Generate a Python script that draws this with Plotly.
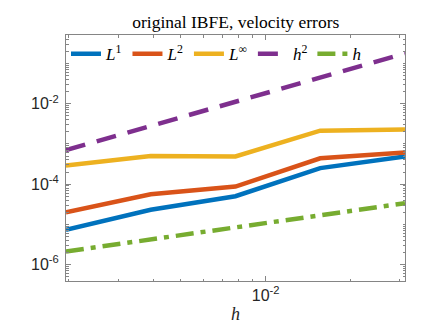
import plotly.graph_objects as go

# mesh widths and velocity errors (original IBFE)
h = [1/512, 1/256, 1/128, 1/64, 1/32]
err_l1 = [7.3e-6, 2.3e-5, 5.0e-5, 2.5e-4, 4.9e-4]
err_l2 = [2.0e-5, 5.6e-5, 8.7e-5, 4.4e-4, 6.1e-4]
err_linf = [2.9e-4, 5.0e-4, 4.9e-4, 2.14e-3, 2.3e-3]
ref_h2 = [7.0e-4, 2.8e-3, 1.12e-2, 4.48e-2, 1.79e-1]
ref_h = [2.1e-6, 4.2e-6, 8.4e-6, 1.68e-5, 3.36e-5]

series = [
    ("<i>L</i><sup>1</sup>", err_l1, "#0072BD", "solid"),
    ("<i>L</i><sup>2</sup>", err_l2, "#D95319", "solid"),
    ("<i>L</i><sup>∞</sup>", err_linf, "#EDB120", "solid"),
    ("<i>h</i><sup>2</sup>", ref_h2, "#7E2F8E", "20px,12px"),
    ("<i>h</i>", ref_h, "#77AC30", "18px,7px,5px,7px"),
]

fig = go.Figure()
for name, y, color, dash in series:
    fig.add_trace(go.Scatter(x=h, y=y, mode="lines", name=name,
                             line=dict(color=color, width=4.5, dash=dash)))

axis_common = dict(
    type="log", showgrid=False, zeroline=False,
    showline=True, linecolor="#858585", linewidth=1, mirror="ticks",
    ticks="inside", ticklen=5, tickcolor="#858585",
    tickfont=dict(family="Liberation Sans, Arial", size=16, color="#262626"),
    minor=dict(ticks="inside", ticklen=2.5, tickcolor="#858585", dtick="D1"),
)

fig.update_xaxes(**axis_common, range=[-2.709, -1.505],
                 tickvals=[1e-2], ticktext=["10<sup>-2</sup>"],
                 title=dict(text="<i>h</i>", standoff=4,
                            font=dict(family="Liberation Serif, serif", size=18, color="#262626")))
fig.update_yaxes(**axis_common, range=[-6.41, -0.29], ticklabelstandoff=3,
                 tickvals=[1e-6, 1e-4, 1e-2],
                 ticktext=["10<sup>-6</sup>", "10<sup>-4</sup>", "10<sup>-2</sup>"])

fig.update_layout(
    width=438, height=328,
    margin=dict(l=58, r=41, t=27, b=55),
    paper_bgcolor="white", plot_bgcolor="white",
    title=dict(text="original IBFE, velocity errors", x=0.52, xanchor="center",
               y=0.958, yanchor="middle",
               font=dict(family="Liberation Serif, serif", size=17.5, color="#000000")),
    legend=dict(orientation="h", x=0.0, y=0.995, xanchor="left", yanchor="top",
                bgcolor="rgba(0,0,0,0)", borderwidth=0,
                font=dict(family="Liberation Serif, serif", size=17, color="#000000"),
                tracegroupgap=0, itemwidth=30),
    showlegend=True,
)

fig.write_html("out.html")
